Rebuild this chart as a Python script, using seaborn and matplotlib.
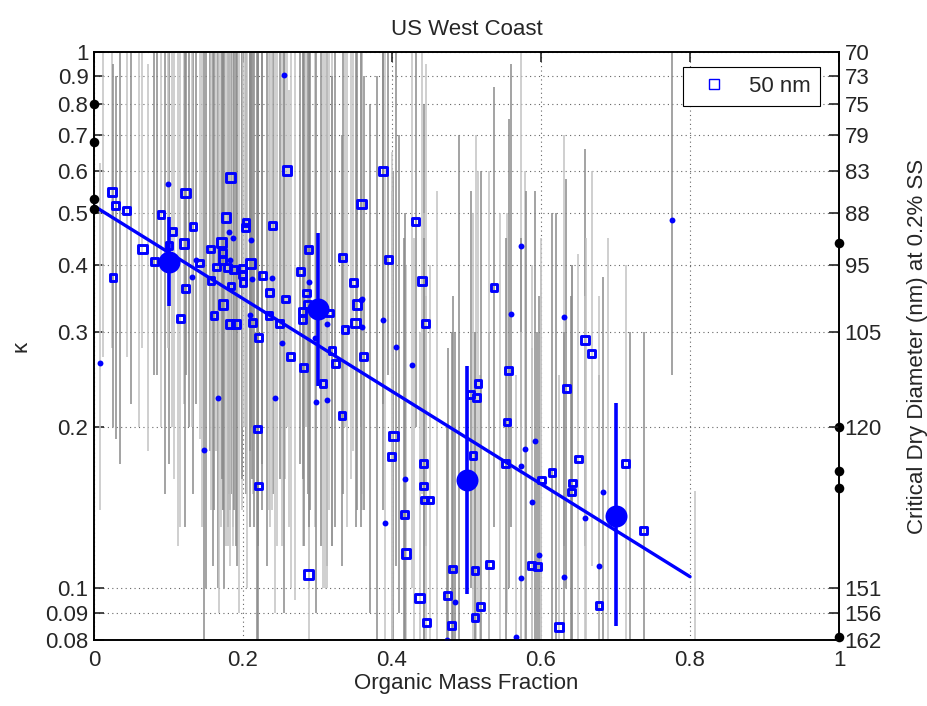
import numpy as np
import pandas as pd
import matplotlib
matplotlib.use('Agg')
import matplotlib.pyplot as plt
import seaborn as sns
from matplotlib.lines import Line2D
from matplotlib.ticker import FixedLocator, NullLocator

# ---- 50 nm measurements, open squares (size 1 = small, 2 = medium) ----
sq_omf = [0.024, 0.029, 0.044, 0.0255, 0.090, 0.123, 0.105, 0.1007, 0.065, 0.081,
          0.121, 0.133, 0.183, 0.177, 0.204, 0.203, 0.240, 0.171, 0.156, 0.173,
          0.172, 0.164, 0.1795, 0.187, 0.210, 0.199, 0.199, 0.142, 0.1226, 0.157,
          0.184, 0.200, 0.226, 0.236, 0.173, 0.257, 0.277, 0.288, 0.334, 0.348,
          0.353, 0.359, 0.388, 0.259, 0.395, 0.285, 0.287, 0.280, 0.280, 0.316,
          0.351, 0.337, 0.362, 0.3195, 0.324, 0.3074, 0.333, 0.116, 0.161, 0.1826,
          0.1906, 0.213, 0.2206, 0.235, 0.249, 0.264, 0.2815, 0.219, 0.2206, 0.288,
          0.432, 0.440, 0.537, 0.445, 0.6586, 0.668, 0.5566, 0.5154, 0.5056, 0.513,
          0.634, 0.5544, 0.4018, 0.3996, 0.4425, 0.5087, 0.5526, 0.6004, 0.6148, 0.642,
          0.641, 0.650, 0.7137, 0.738, 0.4425, 0.4434, 0.451, 0.4165, 0.4188, 0.4814,
          0.5114, 0.5306, 0.5875, 0.595, 0.437, 0.4747, 0.5185, 0.5114, 0.446, 0.480,
          0.624, 0.6779]
sq_kappa = [0.548, 0.517, 0.506, 0.380, 0.498, 0.546, 0.462, 0.436, 0.429, 0.407,
            0.439, 0.473, 0.583, 0.491, 0.481, 0.470, 0.474, 0.441, 0.429, 0.422,
            0.409, 0.397, 0.396, 0.393, 0.403, 0.394, 0.385, 0.404, 0.362, 0.375,
            0.366, 0.371, 0.383, 0.356, 0.338, 0.346, 0.389, 0.428, 0.413, 0.372,
            0.338, 0.521, 0.600, 0.601, 0.410, 0.355, 0.338, 0.328, 0.317, 0.326,
            0.312, 0.304, 0.270, 0.277, 0.262, 0.241, 0.210, 0.318, 0.322, 0.311,
            0.311, 0.313, 0.293, 0.322, 0.311, 0.270, 0.258, 0.198, 0.155, 0.106,
            0.482, 0.374, 0.363, 0.311, 0.290, 0.274, 0.255, 0.241, 0.230, 0.227,
            0.236, 0.204, 0.192, 0.176, 0.171, 0.177, 0.171, 0.159, 0.164, 0.157,
            0.151, 0.174, 0.171, 0.128, 0.155, 0.146, 0.146, 0.137, 0.116, 0.1085,
            0.108, 0.1107, 0.110, 0.1096, 0.0958, 0.097, 0.0925, 0.088, 0.0862, 0.0851,
            0.0847, 0.0929]
sq_lo = [0.28, 0.19, 0.27, 0.20, 0.20, 0.25, 0.20, 0.17, 0.28, 0.25,
         0.22, 0.15, 0.14, 0.12, 0.15, 0.20, 0.15, 0.13, 0.18, 0.14,
         0.16, 0.18, 0.13, 0.12, 0.18, 0.14, 0.16, 0.19, 0.13, 0.14,
         0.15, 0.20, 0.17, 0.13, 0.14, 0.16, 0.17, 0.10, 0.15, 0.18,
         0.14, 0.20, 0.22, 0.20, 0.25, 0.20, 0.15, 0.12, 0.16, 0.14,
         0.13, 0.20, 0.14, 0.12, 0.13, 0.10, 0.11, 0.13, 0.14, 0.11,
         0.12, 0.15, 0.12, 0.14, 0.16, 0.10, 0.12, 0.08, 0.07, 0.07,
         0.20, 0.15, 0.13, 0.12, 0.12, 0.11, 0.10, 0.09, 0.10, 0.08,
         0.10, 0.09, 0.07, 0.07, 0.06, 0.07, 0.07, 0.06, 0.07, 0.06,
         0.06, 0.08, 0.07, 0.06, 0.06, 0.05, 0.06, 0.05, 0.05, 0.05,
         0.05, 0.05, 0.05, 0.05, 0.05, 0.05, 0.05, 0.05, 0.05, 0.05,
         0.05, 0.05]
sq_hi = [1.2, 0.9, 1.2, 0.95, 1.2, 1.2, 1.2, 1.2, 1.2, 1.2,
         1.2, 1.2, 1.2, 1.2, 1.2, 1.2, 1.2, 1.2, 1.2, 1.2,
         1.2, 1.2, 1.2, 1.2, 1.2, 1.2, 1.2, 1.2, 1.2, 1.2,
         1.2, 1.2, 1.2, 1.2, 1.2, 1.2, 1.2, 1.2, 1.2, 1.2,
         1.2, 1.2, 1.2, 1.2, 1.2, 1.2, 1.2, 1.2, 1.2, 1.2,
         1.2, 1.2, 0.9, 1.2, 1.2, 1.2, 0.7, 1.2, 1.2, 1.2,
         1.2, 1.2, 1.2, 1.2, 1.2, 1.2, 1.2, 1.2, 1.2, 1.2,
         1.2, 1.2, 0.86, 0.95, 0.66, 0.6, 0.75, 0.6, 0.55, 0.7,
         0.58, 0.5, 0.6, 0.55, 0.8, 0.5, 0.45, 0.45, 0.5, 0.4,
         0.4, 0.42, 0.4, 0.3, 0.5, 0.45, 0.4, 0.45, 0.4, 0.35,
         0.3, 0.3, 0.28, 0.3, 0.3, 0.28, 0.25, 0.3, 0.35, 0.3,
         0.25, 0.25]
sq_size = [2, 1, 1, 1, 1, 2, 1, 1, 2, 1,
           2, 1, 2, 2, 1, 1, 1, 2, 1, 1,
           1, 1, 1, 1, 2, 1, 1, 1, 1, 1,
           1, 1, 1, 1, 2, 1, 1, 1, 1, 1,
           2, 2, 2, 2, 1, 1, 1, 1, 1, 1,
           2, 1, 1, 1, 1, 1, 1, 1, 1, 2,
           2, 1, 1, 1, 1, 1, 1, 1, 1, 2,
           1, 2, 1, 1, 2, 1, 1, 1, 1, 1,
           1, 1, 2, 1, 1, 1, 1, 1, 1, 1,
           1, 1, 1, 1, 1, 1, 1, 1, 2, 1,
           1, 1, 1, 1, 2, 1, 1, 1, 1, 1,
           2, 1]
sq_dark = [0, 1, 0, 1, 0, 1, 0, 1, 0, 1,
           0, 1, 1, 0, 1, 0, 1, 0, 1, 0,
           1, 0, 1, 0, 1, 0, 1, 0, 1, 0,
           1, 0, 1, 0, 1, 0, 1, 0, 1, 0,
           1, 0, 1, 0, 1, 0, 1, 0, 1, 0,
           1, 0, 1, 0, 1, 0, 1, 0, 1, 0,
           1, 0, 1, 0, 1, 0, 1, 1, 1, 0,
           1, 0, 1, 0, 1, 0, 1, 0, 1, 0,
           1, 0, 1, 0, 1, 0, 1, 0, 1, 0,
           1, 0, 0, 1, 0, 1, 0, 1, 0, 1,
           0, 1, 0, 1, 0, 1, 0, 1, 0, 1,
           0, 1]

# ---- low-weight measurements, small filled dots ----
dot_omf = [0.0997, 0.2555, 0.181, 0.186, 0.211, 0.182, 0.137, 0.131, 0.212, 0.2385,
           0.288, 0.360, 0.0077, 0.166, 0.243, 0.148, 0.3906, 0.3875, 0.253, 0.210,
           0.2966, 0.313, 0.360, 0.359, 0.5736, 0.776, 0.405, 0.4264, 0.560, 0.631,
           0.592, 0.579, 0.5736, 0.588, 0.6836, 0.6586, 0.4175, 0.2976, 0.313, 0.4846,
           0.5736, 0.6305, 0.678, 0.5977, 0.567, 0.474]
dot_kappa = [0.566, 0.906, 0.461, 0.449, 0.445, 0.410, 0.410, 0.381, 0.377, 0.378,
             0.372, 0.346, 0.263, 0.226, 0.226, 0.181, 0.132, 0.316, 0.286, 0.323,
             0.293, 0.311, 0.307, 0.345, 0.434, 0.485, 0.281, 0.261, 0.324, 0.320,
             0.188, 0.182, 0.169, 0.145, 0.151, 0.135, 0.160, 0.222, 0.224, 0.094,
             0.1045, 0.1047, 0.110, 0.1153, 0.081, 0.080]
dot_lo = [0.28, 0.35, 0.15, 0.13, 0.20, 0.15, 0.22, 0.20, 0.16, 0.14,
          0.13, 0.15, 0.14, 0.10, 0.09, 0.08, 0.06, 0.14, 0.12, 0.13,
          0.13, 0.11, 0.14, 0.13, 0.20, 0.25, 0.11, 0.10, 0.13, 0.12,
          0.08, 0.07, 0.07, 0.06, 0.06, 0.05, 0.06, 0.09, 0.10, 0.05,
          0.05, 0.05, 0.05, 0.05, 0.05, 0.05]
dot_hi = [1.2, 1.2, 1.2, 1.2, 1.2, 1.2, 1.2, 1.2, 1.2, 1.2,
          1.2, 1.2, 0.62, 1.2, 1.2, 1.2, 1.2, 1.2, 1.2, 1.2,
          1.2, 1.2, 1.2, 1.2, 1.2, 1.2, 1.2, 1.2, 0.95, 0.7,
          0.55, 0.6, 0.45, 0.4, 0.38, 0.35, 0.5, 1.2, 1.2, 0.3,
          0.3, 0.3, 0.35, 0.35, 0.25, 0.2]
dot_dark = [0, 0, 1, 0, 1, 0, 1, 0, 1, 0,
            1, 0, 0, 1, 0, 1, 0, 1, 0, 1,
            0, 1, 0, 1, 0, 1, 1, 0, 1, 0,
            1, 0, 1, 0, 1, 0, 1, 1, 0, 1,
            0, 1, 0, 1, 0, 1]

# error bars whose points fall outside the kappa range
extra_omf = [0.035, 0.06, 0.085, 0.113, 0.15, 0.168, 0.192, 0.195, 0.225, 0.27,
             0.305, 0.34, 0.38, 0.46, 0.49, 0.53, 0.62, 0.66, 0.807,
             0.012, 0.05, 0.072, 0.095, 0.108, 0.128, 0.145, 0.16, 0.175, 0.18,
             0.188, 0.205, 0.215, 0.232, 0.245, 0.255, 0.262, 0.29, 0.31, 0.32,
             0.345, 0.37, 0.40, 0.41, 0.43, 0.52, 0.545, 0.58, 0.60, 0.64,
             0.69, 0.72]
extra_lo = [0.17, 0.2, 0.25, 0.12, 0.1, 0.09, 0.11, 0.09, 0.14, 0.095,
            0.12, 0.13, 0.08, 0.07, 0.07, 0.07, 0.07, 0.07, 0.07,
            0.27, 0.22, 0.18, 0.15, 0.16, 0.2, 0.13, 0.11, 0.1, 0.12,
            0.14, 0.1, 0.13, 0.11, 0.12, 0.09, 0.13, 0.14, 0.1, 0.12,
            0.16, 0.09, 0.08, 0.09, 0.07, 0.07, 0.07, 0.07, 0.07, 0.07,
            0.07, 0.07]
extra_hi = [1.2, 1.2, 1.2, 1.2, 1.2, 1.2, 1.2, 1.2, 1.2, 1.2,
            1.2, 1.2, 0.9, 0.55, 0.7, 0.6, 0.5, 0.45, 0.152,
            1.2, 1.2, 0.95, 1.2, 1.2, 1.2, 1.2, 1.2, 1.2, 1.2,
            1.2, 1.2, 1.2, 1.2, 1.2, 1.2, 0.85, 1.2, 1.2, 0.9,
            1.2, 0.8, 0.65, 0.7, 0.45, 0.6, 0.5, 0.55, 0.4, 0.35,
            0.45, 0.3]
extra_dark = [1, 0, 1, 0, 1, 0, 1, 0, 1, 0,
              1, 0, 1, 0, 1, 0, 1, 0, 0,
              0, 1, 0, 1, 0, 1, 0, 1, 1, 0,
              1, 0, 1, 1, 0, 1, 0, 1, 0, 1,
              0, 1, 0, 1, 0, 1, 0, 1, 0, 1,
              0, 1]

# binned means
bin_omf = [0.1, 0.3, 0.5, 0.7]
bin_kappa = [0.406, 0.331, 0.159, 0.136]
bin_lo = [0.336, 0.238, 0.0975, 0.085]
bin_hi = [0.493, 0.459, 0.260, 0.221]

# linear fit in log space
fit_omf = [0.0, 0.8]
fit_kappa = [0.516, 0.105]

# pure-component kappa values on the axes edges
edge0_kappa = [0.80, 0.68, 0.531, 0.51]
edge1_kappa = [0.44, 0.20, 0.1655, 0.154, 0.081]

kappa_ticks = [0.08, 0.09, 0.1, 0.2, 0.3, 0.4, 0.5, 0.6, 0.7, 0.8, 0.9, 1]
kappa_labels = ['0.08', '0.09', '0.1', '0.2', '0.3', '0.4', '0.5', '0.6', '0.7', '0.8', '0.9', '1']
diam_labels = ['162', '156', '151', '120', '105', '95', '88', '83', '79', '75', '73', '70']
x_ticks = [0, 0.2, 0.4, 0.6, 0.8, 1]
x_labels = ['0', '0.2', '0.4', '0.6', '0.8', '1']

sns.set_style('white')
plt.rcParams['font.family'] = ['Liberation Sans', 'DejaVu Sans']
plt.rcParams['font.size'] = 16

fig = plt.figure(figsize=(9.27, 7.06), dpi=100)
ax = fig.add_axes([0.1014, 0.0935, 0.8037, 0.8329])

# grey error bars
bars = pd.DataFrame({
    'omf': sq_omf + dot_omf + extra_omf,
    'lo': sq_lo + dot_lo + extra_lo,
    'hi': sq_hi + dot_hi + extra_hi,
    'dark': sq_dark + dot_dark + extra_dark,
})
bar_cols = np.where(bars['dark'] == 1, '#8a8a8a', '#c2c2c2')
ax.vlines(bars['omf'], bars['lo'], bars['hi'], colors=bar_cols, lw=1.1, zorder=1)

sns.lineplot(x=fit_omf, y=fit_kappa, color='blue', lw=2.4, ax=ax, zorder=3)

df_sq = pd.DataFrame({'omf': sq_omf, 'kappa': sq_kappa, 'size': sq_size})
sns.scatterplot(data=df_sq, x='omf', y='kappa', size='size', sizes={1: 24, 2: 36},
                marker='s', facecolor='none', edgecolor='blue', linewidth=2.1,
                legend=False, ax=ax, zorder=4)
sns.scatterplot(x=dot_omf, y=dot_kappa, color='blue', s=18, marker='o',
                linewidth=0, ax=ax, zorder=4)

# binned means with spread
ax.vlines(bin_omf, bin_lo, bin_hi, colors='blue', lw=2.6, zorder=5)
sns.scatterplot(x=bin_omf, y=bin_kappa, color='blue', s=250, linewidth=0, ax=ax, zorder=6)

sns.scatterplot(x=np.zeros(len(edge0_kappa)), y=edge0_kappa, color='black', s=48,
                linewidth=0, clip_on=False, ax=ax, zorder=7)
sns.scatterplot(x=np.ones(len(edge1_kappa)), y=edge1_kappa, color='black', s=48,
                linewidth=0, clip_on=False, ax=ax, zorder=7)

ax.set_yscale('log')
ax.set_xlim(0, 1)
ax.set_ylim(0.08, 1)
ax.yaxis.set_major_locator(FixedLocator(kappa_ticks))
ax.yaxis.set_minor_locator(NullLocator())
ax.set_yticklabels(kappa_labels)
ax.set_xticks(x_ticks)
ax.set_xticklabels(x_labels)
ax.grid(True, ls=(0, (1, 3)), color='#666666', lw=0.8)
ax.set_axisbelow(True)
ax.tick_params(direction='in', length=7, width=1.2, top=True, right=False,
               labelsize=16, pad=4)
ax.tick_params(axis='x', pad=7)
ax.set_xlabel('Organic Mass Fraction', fontsize=16, labelpad=2)
ax.set_ylabel('κ', fontsize=16, labelpad=10)
ax.set_title('US West Coast', fontsize=16, pad=12)

ax2 = ax.twinx()
ax2.set_yscale('log')
ax2.set_ylim(0.08, 1)
ax2.yaxis.set_major_locator(FixedLocator(kappa_ticks))
ax2.yaxis.set_minor_locator(NullLocator())
ax2.set_yticklabels(diam_labels)
ax2.tick_params(direction='in', length=7, width=1.2, labelsize=16, pad=4)
ax2.set_ylabel('Critical Dry Diameter (nm) at 0.2% SS', fontsize=16, labelpad=18)

for a in (ax, ax2):
    for sp in a.spines.values():
        sp.set_color('black')
        sp.set_linewidth(1.2)

handle = Line2D([], [], marker='s', ls='none', mfc='none', mec='blue', ms=7, mew=1)
leg = ax.legend([handle], ['50 nm'], loc='upper right', bbox_to_anchor=(0.9745, 0.9745),
                borderaxespad=0, fancybox=False, edgecolor='black', framealpha=1,
                fontsize=16, handletextpad=0.6, borderpad=0.4)
leg.get_frame().set_linewidth(0.8)
leg.set_zorder(10)

fig.savefig('out.png', dpi=100)
